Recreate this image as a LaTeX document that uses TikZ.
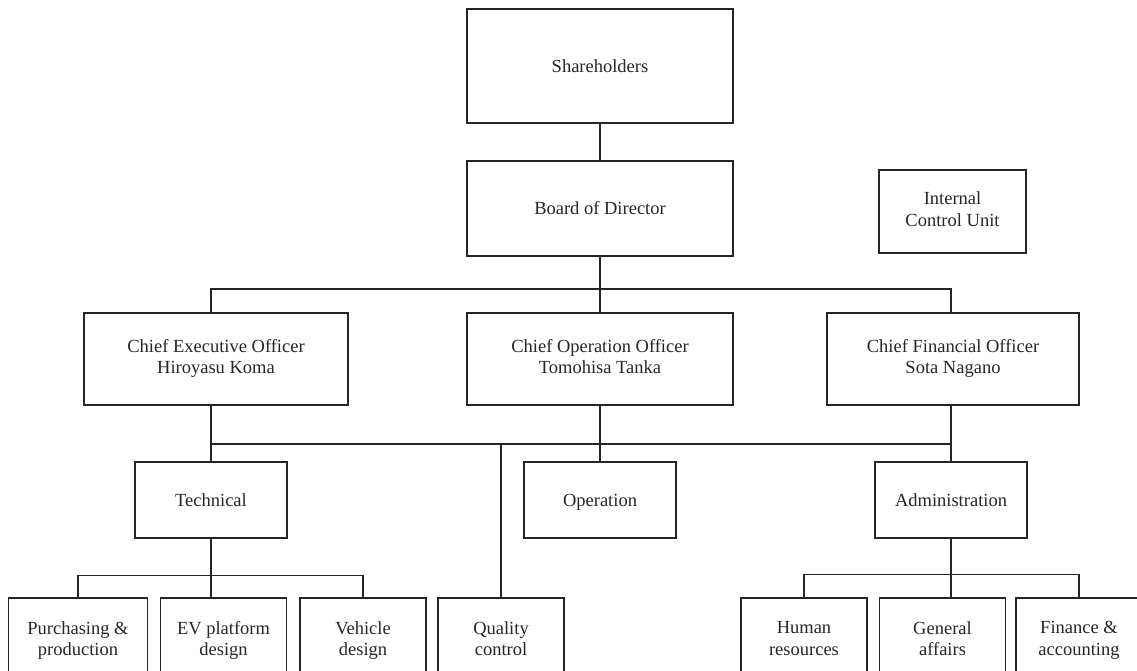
\documentclass[tikz,border=0pt]{standalone}
\usepackage{fontspec}
\setmainfont{Liberation Serif}
\usetikzlibrary{positioning}

\tikzset{
  orgbox/.style={draw=black!85, line width=1.5pt, align=center, inner sep=0pt, text=black!85,
    execute at begin node=\rule{0pt}{17pt}, execute at end node=\rule[-5pt]{0pt}{5pt}},
  officerbox/.style={orgbox, minimum height=92pt},
  deptbox/.style={orgbox, minimum width=152pt, minimum height=76pt},
  unitbox/.style={orgbox, minimum width=126pt, minimum height=86pt},
  link/.style={draw=black!85, line width=1.5pt},
}

\begin{document}
\begin{tikzpicture}[x=1pt, y=-1pt, font=\fontsize{18.5}{21.5}\selectfont]
    \useasboundingbox (0,0) rectangle (1137,670);
    \clip (0,0) rectangle (1137,670);

    % top of the chart
    \node[orgbox, minimum width=266pt, minimum height=114pt] (sh) at (600,66) {Shareholders};
    \node[orgbox, minimum width=266pt, minimum height=95pt] (bd) at (600,208.5) {Board of Director};
    \node[orgbox, minimum width=147pt, minimum height=83pt] (icu) at (952.5,211.5) {Internal\\Control Unit};

    % officers
    \node[officerbox, minimum width=264pt] (ceo) at (216,359) {Chief Executive Officer\\Hiroyasu Koma};
    \node[officerbox, minimum width=266pt] (coo) at (600,359) {Chief Operation Officer\\Tomohisa Tanka};
    \node[officerbox, minimum width=252pt] (cfo) at (953,359) {Chief Financial Officer\\Sota Nagano};

    % departments
    \node[deptbox] (tech) at (211,500) {Technical};
    \node[deptbox] (op) at (600,500) {Operation};
    \node[deptbox] (admin) at (951,500) {Administration};

    % units
    \node[unitbox, minimum width=139pt] (pur) at (78,641) {Purchasing \&\\production};
    \node[unitbox] (ev) at (223.5,641) {EV platform\\design};
    \node[unitbox] (veh) at (363,641) {Vehicle\\design};
    \node[unitbox] (qc) at (501,641) {Quality\\control};
    \node[unitbox] (hr) at (804,641) {Human\\resources};
    \node[unitbox] (gen) at (942.5,641) {General\\affairs};
    \node[unitbox] (fin) at (1079,641) {Finance \&\\accounting};

    \coordinate (bar1) at (600,289);
    \coordinate (bar2) at (600,444);

    \draw[link] (sh) -- (bd);
    \draw[link] (bd) -- (bar1);
    \draw[link] (ceo.north -| tech) |- (bar1) -| (cfo.north -| admin);
    \draw[link] (bar1) -- (coo);

    \draw[link] (ceo.south -| tech) -- (tech);
    \draw[link] (tech |- bar2) -- (admin |- bar2);
    \draw[link] (coo) -- (op);
    \draw[link] (cfo.south -| admin) -- (admin);
    \draw[link] (qc.north) -- (qc |- bar2);

    \draw[link] (tech) -- (tech.south |- ev.north);
    \draw[link] (pur.north) -- ++(0,-22) -| (veh.north);
    \draw[link] (admin) -- (admin.south |- gen.north);
    \draw[link] (hr.north) -- ++(0,-23) -| (fin.north);
\end{tikzpicture}
\end{document}
